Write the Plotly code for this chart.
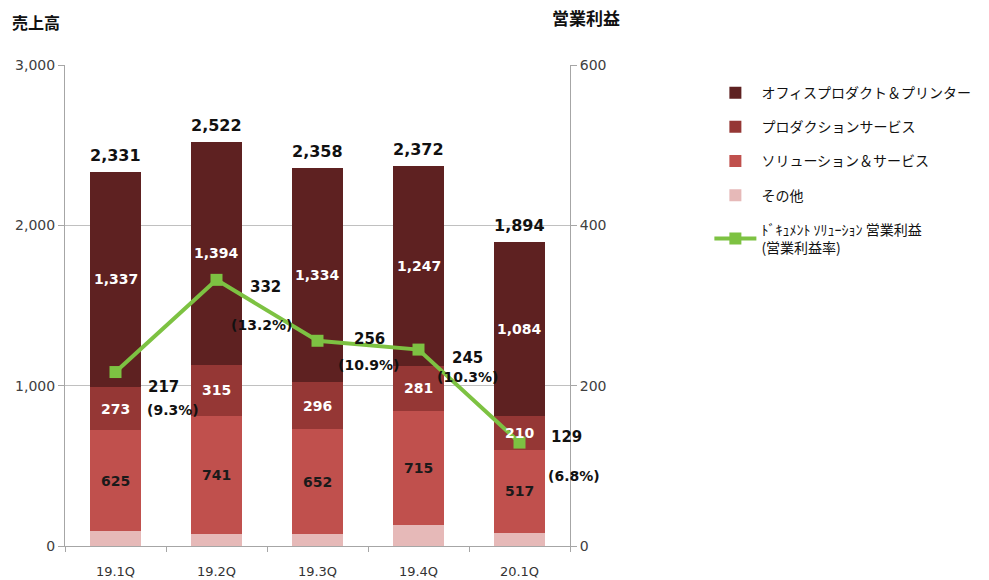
import plotly.graph_objects as go

quarters = ["19.1Q", "19.2Q", "19.3Q", "19.4Q", "20.1Q"]
office = [1337, 1394, 1334, 1247, 1084]
production = [273, 315, 296, 281, 210]
solutions = [625, 741, 652, 715, 517]
totals = [2331, 2522, 2358, 2372, 1894]
other = [t - a - b - c for t, a, b, c in zip(totals, office, production, solutions)]
op_profit = [217, 332, 256, 245, 129]
op_margin = ["(9.3%)", "(13.2%)", "(10.9%)", "(10.3%)", "(6.8%)"]

# label offsets (pixels) for line annotations
val_dx = [48, 49, 52, 49, 47]
val_dy = [-15, -7, 2, -8, 6]
pct_dx = [57, 45, 51, 49, 54]
pct_dy = [-38, -45, -24, -27, -33]

NUM = "DejaVu Sans"
JP = "Noto Sans CJK JP"

c_office = "#5E2121"
c_prod = "#953735"
c_sol = "#C0504D"
c_other = "#E6B9B8"
c_green = "#7DC242"

fig = go.Figure()

stack = [
    ("その他", other, c_other, None, 4, "d"),
    ("ソリューション＆サービス", solutions, c_sol, "#1a1a1a", 3, "c"),
    ("プロダクションサービス", production, c_prod, "white", 2, "b"),
    ("オフィスプロダクト＆プリンター", office, c_office, "white", 1, "a"),
]
base = [0] * len(quarters)
for name, vals, col, tcol, rank, grp in stack:
    fig.add_bar(x=quarters, y=vals, name=name, marker_color=col,
                marker_line_width=0, legendrank=rank, legendgroup=grp)
    if tcol is not None:
        for q, b, v in zip(quarters, base, vals):
            fig.add_annotation(x=q, y=b + v / 2, text=f"{v:,}", showarrow=False,
                               font=dict(family=NUM, size=14, color=tcol, weight="bold"))
    base = [b + v for b, v in zip(base, vals)]

fig.add_scatter(x=quarters, y=op_profit, yaxis="y2", mode="lines+markers",
                name="ﾄﾞｷｭﾒﾝﾄ ｿﾘｭｰｼｮﾝ 営業利益<br>(営業利益率)",
                line=dict(color=c_green, width=4),
                marker=dict(symbol="square", size=12, color=c_green),
                legendrank=5, legendgroup="e")

# totals above bars
for q, t in zip(quarters, totals):
    fig.add_annotation(x=q, y=t, text=f"{t:,}", showarrow=False, yanchor="bottom",
                       yshift=5, font=dict(family=NUM, size=16, color="#111", weight="bold"))

# line labels
for i, (q, v) in enumerate(zip(quarters, op_profit)):
    fig.add_annotation(x=q, y=v, yref="y2", text=str(v), showarrow=False,
                       xshift=val_dx[i], yshift=val_dy[i],
                       font=dict(family=NUM, size=15, color="#111", weight="bold"))
    fig.add_annotation(x=q, y=v, yref="y2", text=op_margin[i], showarrow=False,
                       xshift=pct_dx[i], yshift=pct_dy[i],
                       font=dict(family=NUM, size=14, color="#111", weight="bold"))

# axis titles
fig.add_annotation(xref="paper", yref="paper", x=-0.109, y=1.089, text="売上高",
                   showarrow=False, xanchor="left", yanchor="middle",
                   font=dict(family=JP, size=16, color="#111", weight="bold"))
fig.add_annotation(xref="paper", yref="paper", x=0.96, y=1.098, text="営業利益",
                   showarrow=False, xanchor="left", yanchor="middle",
                   font=dict(family=JP, size=17, color="#111", weight="bold"))

fig.update_layout(
    width=989, height=580,
    margin=dict(l=65, r=419, t=65, b=34, autoexpand=False),
    paper_bgcolor="white", plot_bgcolor="white",
    barmode="stack", bargap=0.5,
    showlegend=True,
    legend=dict(x=1.276, y=0.975, xanchor="left", yanchor="top",
                font=dict(family=JP, size=14, color="#111"),
                tracegroupgap=13, itemwidth=42, bgcolor="rgba(0,0,0,0)"),
    xaxis=dict(type="category", range=[-0.5, 4.5], tickson="boundaries",
               ticks="outside", ticklen=5, tickcolor="#A6A6A6",
               showline=True, linecolor="#A6A6A6", linewidth=1,
               tickfont=dict(family=NUM, size=13, color="#333"),
               ticklabelstandoff=13, showgrid=False),
    yaxis=dict(range=[0, 3000], dtick=1000, tickformat=",",
               showgrid=True, gridcolor="#C0C0C0", gridwidth=1,
               showline=True, linecolor="#A6A6A6", ticks="outside", ticklen=6,
               tickcolor="#A6A6A6", zeroline=False,
               tickfont=dict(family=NUM, size=14, color="#404040")),
    yaxis2=dict(range=[0, 600], dtick=200, overlaying="y", side="right",
                showgrid=False, showline=True, linecolor="#A6A6A6",
                ticks="outside", ticklen=6, tickcolor="#A6A6A6", zeroline=False,
                tickfont=dict(family=NUM, size=14, color="#404040")),
)

fig.write_html("out.html")
